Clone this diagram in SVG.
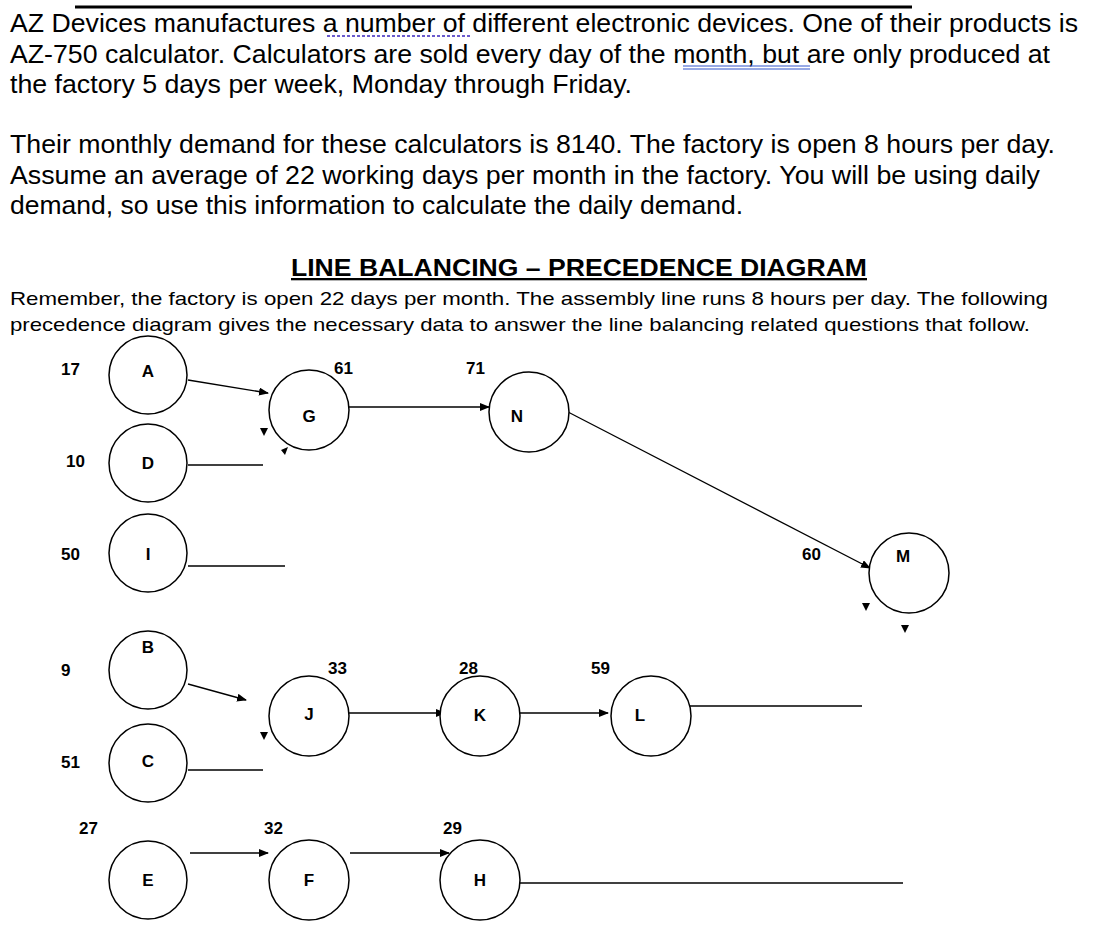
<svg xmlns="http://www.w3.org/2000/svg" width="1114" height="940" viewBox="0 0 1114 940">
<style>
.p{font-family:"Liberation Sans",Arial,sans-serif;font-size:25px;fill:#000}
.s{font-family:"Liberation Sans",Arial,sans-serif;font-size:19px;fill:#000}
.b{font-family:"Liberation Sans",Arial,sans-serif;font-size:17px;font-weight:bold;fill:#000}
.n circle{fill:#fff;stroke:#000;stroke-width:1.5}
.e line{stroke:#000;stroke-width:1.3}
.t{fill:#000}
</style>
<defs><marker id="ar" markerWidth="10" markerHeight="8" refX="9" refY="4" orient="auto" markerUnits="userSpaceOnUse"><path d="M0,0 L10,4 L0,8 z" fill="#000"/></marker></defs>
<rect width="1114" height="940" fill="#fff"/>
<line x1="75" y1="7" x2="912" y2="7" stroke="#000" stroke-width="3"/>
<text class="p" x="10" y="32" textLength="1068" lengthAdjust="spacingAndGlyphs">AZ Devices manufactures a number of different electronic devices. One of their products is</text>
<text class="p" x="10" y="63" textLength="1040" lengthAdjust="spacingAndGlyphs">AZ-750 calculator. Calculators are sold every day of the month, but are only produced at</text>
<text class="p" x="10" y="93" textLength="622" lengthAdjust="spacingAndGlyphs">the factory 5 days per week, Monday through Friday.</text>
<line x1="327" y1="36" x2="471" y2="36" stroke="#6a5acd" stroke-width="2" stroke-dasharray="3,2"/>
<line x1="683" y1="66" x2="810" y2="66" stroke="#3355cc" stroke-width="1.2"/>
<line x1="683" y1="69" x2="810" y2="69" stroke="#3355cc" stroke-width="1.2"/>
<text class="p" x="10" y="153" textLength="1045" lengthAdjust="spacingAndGlyphs">Their monthly demand for these calculators is 8140. The factory is open 8 hours per day.</text>
<text class="p" x="10" y="184" textLength="1030" lengthAdjust="spacingAndGlyphs">Assume an average of 22 working days per month in the factory. You will be using daily</text>
<text class="p" x="10" y="214" textLength="733" lengthAdjust="spacingAndGlyphs">demand, so use this information to calculate the daily demand.</text>
<text x="291" y="276" textLength="576" lengthAdjust="spacingAndGlyphs" font-family="Liberation Sans,Arial,sans-serif" font-size="23" font-weight="bold" text-decoration="underline">LINE BALANCING – PRECEDENCE DIAGRAM</text>
<text class="s" x="10" y="305" textLength="1038" lengthAdjust="spacingAndGlyphs">Remember, the factory is open 22 days per month. The assembly line runs 8 hours per day. The following</text>
<text class="s" x="10" y="331" textLength="1020" lengthAdjust="spacingAndGlyphs">precedence diagram gives the necessary data to answer the line balancing related questions that follow.</text>
<g id="connectors" class="e">
<line x1="188" y1="380" x2="268" y2="393" marker-end="url(#ar)"/>
<line x1="349" y1="407" x2="489" y2="407" marker-end="url(#ar)"/>
<line x1="568" y1="412" x2="870" y2="568" marker-end="url(#ar)"/>
<line x1="188" y1="465" x2="263" y2="465"/>
<line x1="188" y1="566" x2="285" y2="566"/>
<line x1="188" y1="684" x2="246" y2="700" marker-end="url(#ar)"/>
<line x1="349" y1="713" x2="445" y2="713" marker-end="url(#ar)"/>
<line x1="519" y1="713" x2="608" y2="713" marker-end="url(#ar)"/>
<line x1="690" y1="706" x2="862" y2="706"/>
<line x1="188" y1="770" x2="263" y2="770"/>
<line x1="190" y1="853" x2="268" y2="853" marker-end="url(#ar)"/>
<line x1="350" y1="853" x2="449" y2="853" marker-end="url(#ar)"/>
<line x1="520" y1="883" x2="903" y2="883"/>
<path class="t" d="M260,428 L268,428 L264,436 z M281,450 L288,447 L285,455 z M260,732 L268,732 L264,740 z M862,603 L870,603 L866,611 z M901,625 L909,625 L905,633 z"/>
</g>
<g class="n">
<g id="A"><circle cx="148" cy="375" r="39"/><text class="b" x="148" y="377" text-anchor="middle">A</text></g>
<g id="D"><circle cx="148" cy="463" r="39"/><text class="b" x="148" y="469" text-anchor="middle">D</text></g>
<g id="I"><circle cx="148" cy="553" r="39"/><text class="b" x="148" y="560" text-anchor="middle">I</text></g>
<g id="B"><circle cx="148" cy="670" r="39"/><text class="b" x="148" y="653" text-anchor="middle">B</text></g>
<g id="C"><circle cx="148" cy="763" r="39"/><text class="b" x="148" y="767" text-anchor="middle">C</text></g>
<g id="E"><circle cx="148" cy="880" r="39"/><text class="b" x="148" y="886" text-anchor="middle">E</text></g>
<g id="G"><circle cx="309" cy="410" r="40"/><text class="b" x="309" y="422" text-anchor="middle">G</text></g>
<g id="J"><circle cx="309" cy="716" r="40"/><text class="b" x="309" y="720" text-anchor="middle">J</text></g>
<g id="F"><circle cx="309" cy="880" r="40"/><text class="b" x="309" y="886" text-anchor="middle">F</text></g>
<g id="N"><circle cx="529" cy="412" r="40"/><text class="b" x="517" y="422" text-anchor="middle">N</text></g>
<g id="K"><circle cx="480" cy="716" r="40"/><text class="b" x="480" y="721" text-anchor="middle">K</text></g>
<g id="H"><circle cx="480" cy="880" r="40"/><text class="b" x="480" y="886" text-anchor="middle">H</text></g>
<g id="L"><circle cx="651" cy="716" r="40"/><text class="b" x="640" y="721" text-anchor="middle">L</text></g>
<g id="M"><circle cx="909" cy="573" r="40"/><text class="b" x="903" y="562" text-anchor="middle">M</text></g>
</g>
<g>
<text class="b" x="61" y="375">17</text><text class="b" x="66" y="467">10</text><text class="b" x="61" y="560">50</text>
<text class="b" x="61" y="676">9</text><text class="b" x="61" y="768">51</text><text class="b" x="79" y="834">27</text>
<text class="b" x="334" y="374">61</text><text class="b" x="466" y="374">71</text><text class="b" x="328" y="674">33</text>
<text class="b" x="459" y="674">28</text><text class="b" x="591" y="674">59</text><text class="b" x="264" y="834">32</text>
<text class="b" x="443" y="834">29</text><text class="b" x="802" y="560">60</text>
</g>
</svg>
